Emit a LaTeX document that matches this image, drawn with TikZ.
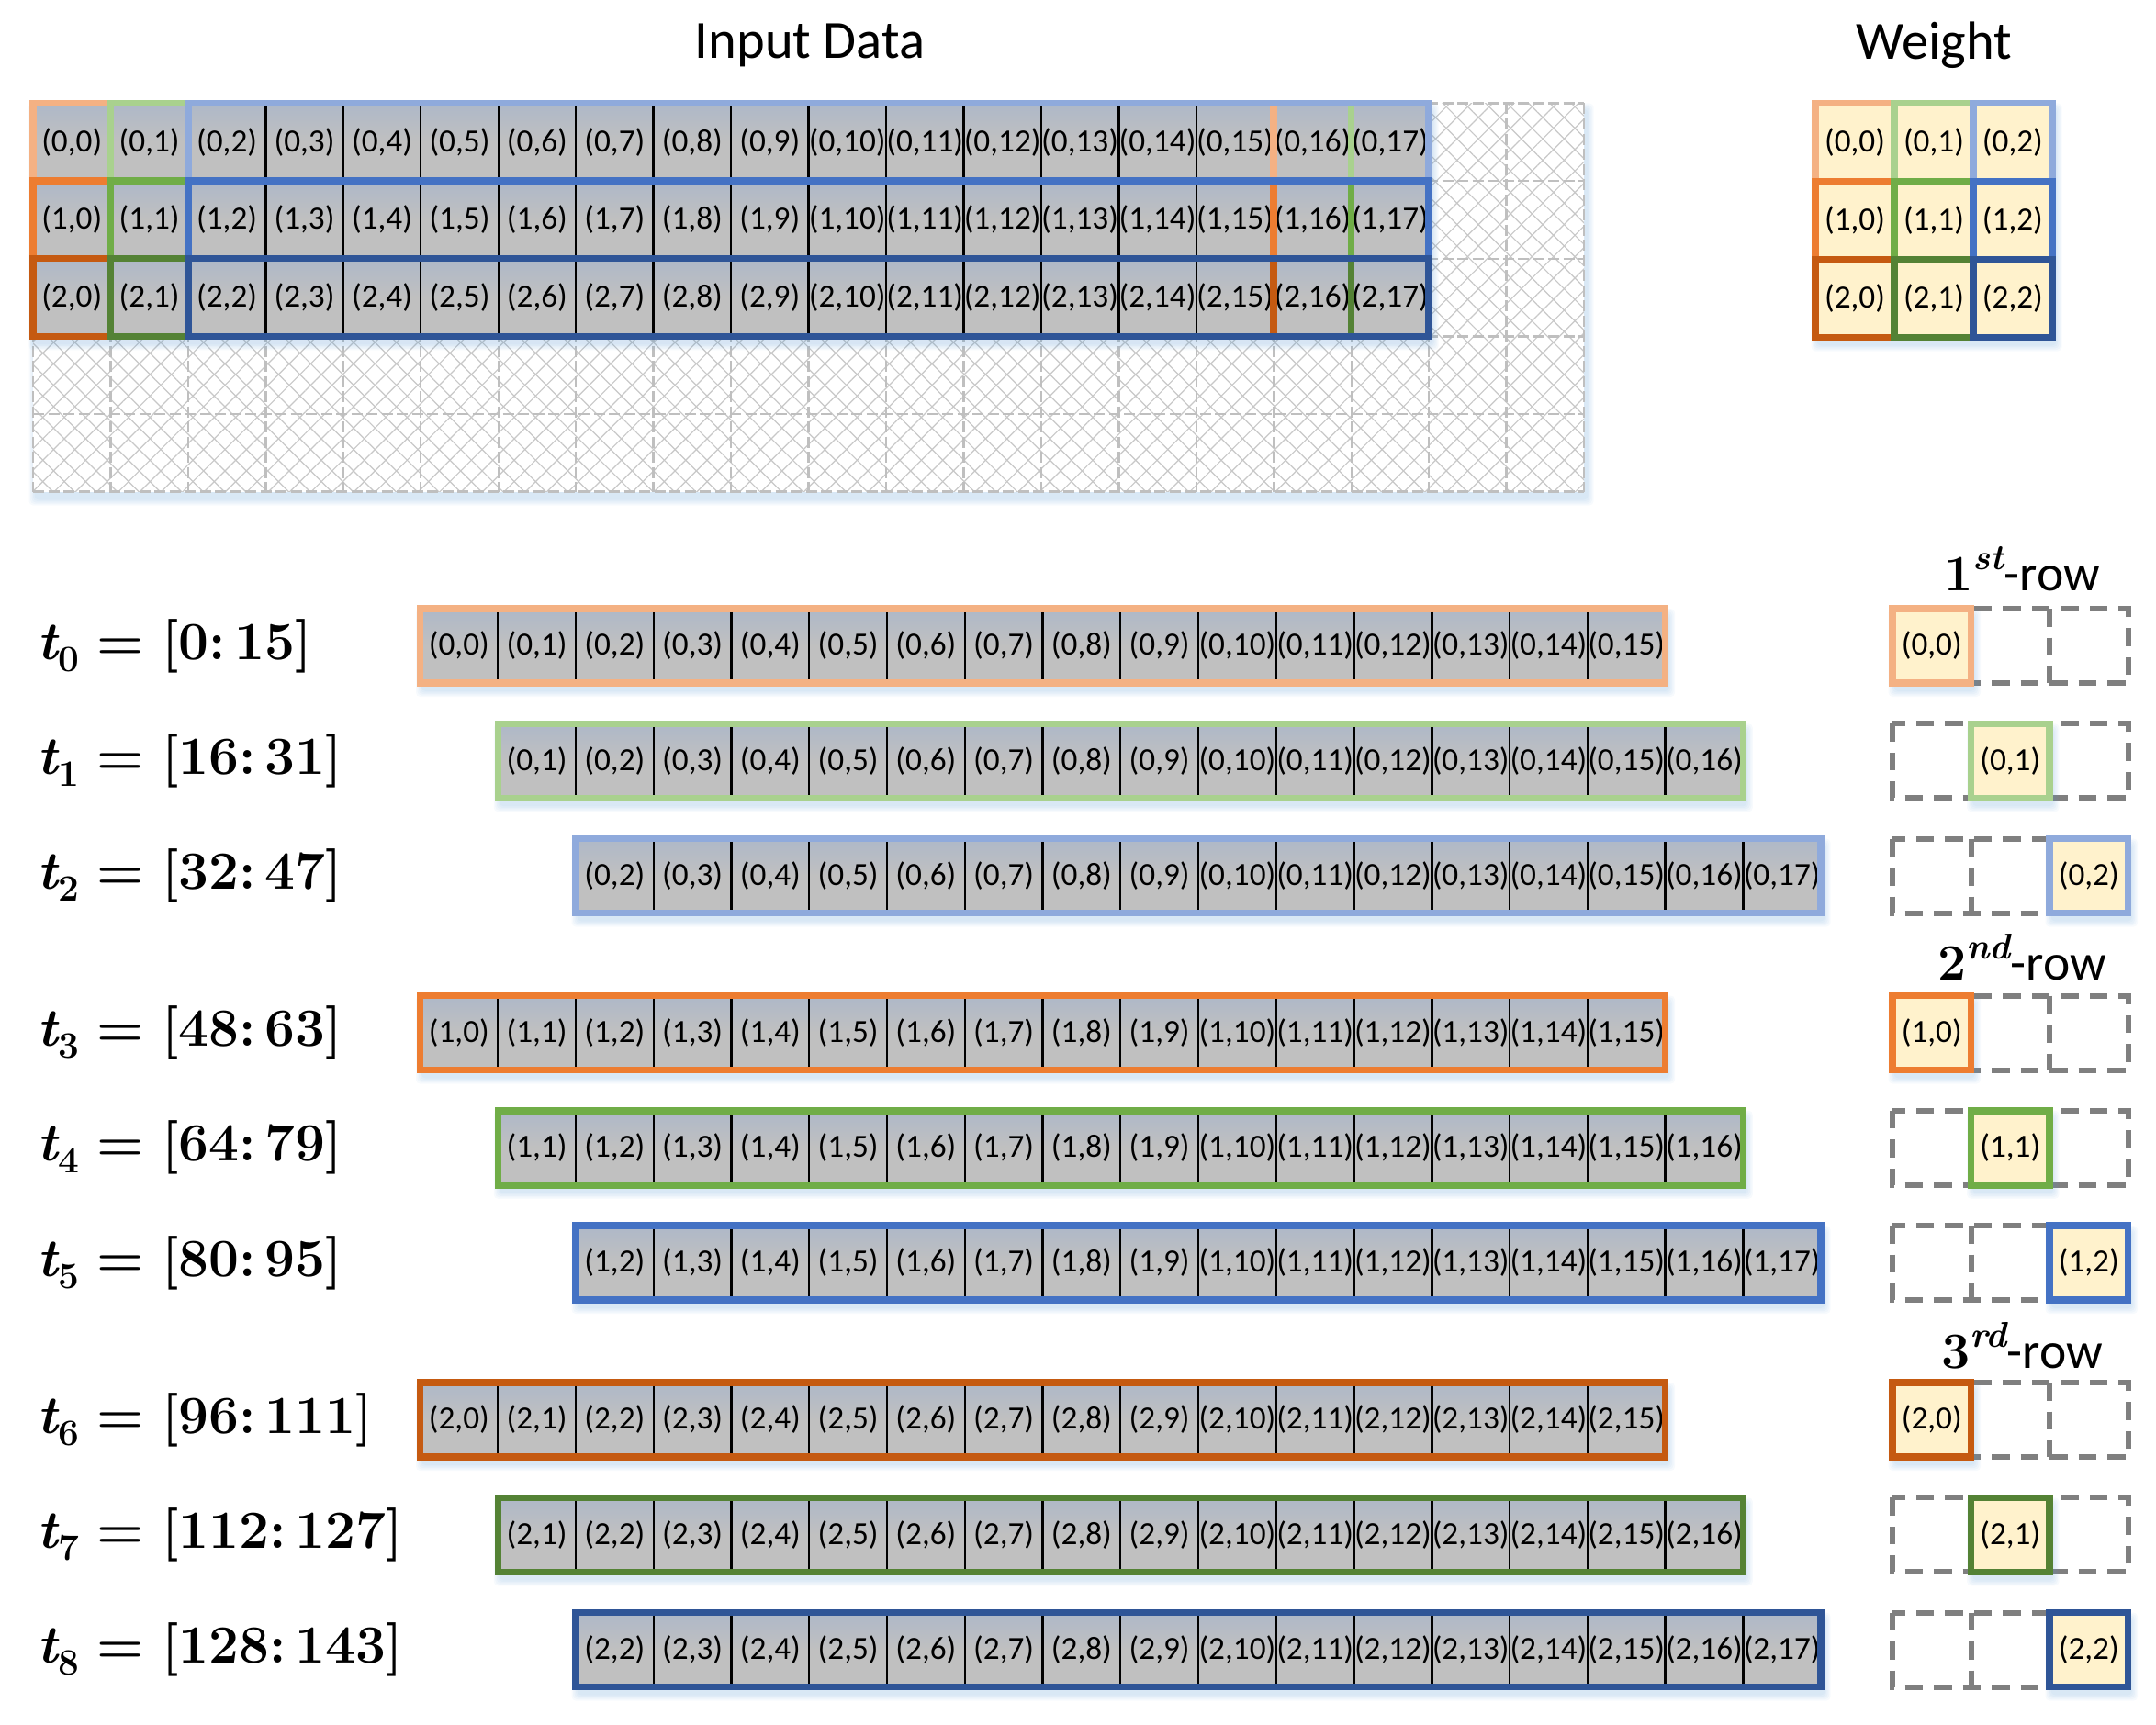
\documentclass[tikz,border=0pt]{standalone}
\usepackage{fontspec}
\newfontfamily\cali{Carlito}
\usetikzlibrary{patterns.meta}
\definecolor{oA}{HTML}{F4B183}
\definecolor{oB}{HTML}{ED7D31}
\definecolor{oC}{HTML}{C55A11}
\definecolor{gA}{HTML}{A9D18E}
\definecolor{gB}{HTML}{70AD47}
\definecolor{gC}{HTML}{548235}
\definecolor{bA}{HTML}{8FAADC}
\definecolor{bB}{HTML}{4472C4}
\definecolor{bC}{HTML}{2F5597}
\definecolor{cellgray}{HTML}{C0C0C0}
\definecolor{celltop}{HTML}{AEB8C8}
\definecolor{wfill}{HTML}{FFF2CC}
\definecolor{hatchc}{HTML}{C8C8C8}
\definecolor{gridc}{HTML}{BFBFBF}
\definecolor{dashc}{HTML}{7F7F7F}
\definecolor{shc}{HTML}{5B9BD5}
\newcommand{\softshadow}[4]{%
  \foreach \s in {1,...,5}{%
    \fill[shc,opacity=0.05,rounded corners=3pt] ({#1+2-\s},{#2+5-\s}) rectangle ({#3+2+\s},{#4+5+\s});}}
\newcommand{\tlab}[3]{\bfseries{\itshape t}\raisebox{-0.22em}{\fontsize{27}{27}\selectfont #1}\,\,=\,\,[#2:\,#3]}
\newcommand{\rlab}[2]{{\bfseries #1\raisebox{0.42em}{\fontsize{26}{26}\selectfont\itshape #2}}{\cali -row}}
\begin{document}
\begin{tikzpicture}[x=1pt,y=-1pt,
  celltxt/.style={font=\cali\fontsize{23.5}{23.5}\selectfont, inner sep=0pt},
  titletxt/.style={font=\cali\fontsize{39}{39}\selectfont, inner sep=0pt},
  tlabel/.style={font=\fontsize{39}{39}\selectfont, inner sep=0pt, anchor=west},
  rowhead/.style={font=\fontsize{37}{37}\selectfont, inner sep=0pt},
  win/.style={line width=5pt},
  divider/.style={black, line width=1.6pt},
  gridline/.style={gridc, line width=1.6pt, dash pattern=on 8pt off 3pt},
  wdash/.style={dashc, line width=4pt, dash pattern=on 13pt off 8pt},
  cellshade/.style={top color=celltop, bottom color=cellgray, middle color=cellgray},
]
\useasboundingbox (0,0) rectangle (1565.3,1252);
\node[titletxt] (title-in) at (588,33) {Input Data};
\node[titletxt] (title-w) at (1404,33) {Weight};
% ---------------- input grid
\def\gx{24}\def\gy{75}\def\gw{56.3}\def\gh{56.4}
\softshadow{24}{75}{1150}{357}
\fill[white] (24,75) rectangle (1150,357);
\fill[pattern={Lines[angle=45,distance=11pt,line width=0.8pt]},pattern color=hatchc] (24,75) rectangle (1150,357);
\fill[pattern={Lines[angle=-45,distance=11pt,line width=0.8pt]},pattern color=hatchc] (24,75) rectangle (1150,357);
\foreach \i in {0,...,20} \draw[gridline] ({\gx+\i*\gw},\gy) -- ++(0,282);
\foreach \j in {0,...,5} \draw[gridline] (\gx,{\gy+\j*\gh}) -- ++(1126,0);
\softshadow{24}{75}{1037.4}{244.2}
\foreach \ri in {0,1,2}{
  \shade[cellshade] ({\gx},{\gy+\ri*\gh}) rectangle ({\gx+18*\gw},{\gy+(\ri+1)*\gh});
  \foreach \ci in {3,...,17} \draw[divider] ({\gx+\ci*\gw},{\gy+\ri*\gh}) -- ++(0,\gh);
  \foreach \ci in {0,...,17} \node[celltxt] (in-\ri-\ci) at ({\gx+(\ci+0.5)*\gw},{\gy+(\ri+0.5)*\gh}) {(\ri,\ci)};
}
\foreach \ri/\ca/\cb/\cc in {0/oA/gA/bA,1/oB/gB/bB,2/oC/gC/bC}{
  \draw[win,draw=\ca] ({\gx},{\gy+\ri*\gh}) rectangle ({\gx+16*\gw},{\gy+(\ri+1)*\gh});
  \draw[win,draw=\cb] ({\gx+\gw},{\gy+\ri*\gh}) rectangle ({\gx+17*\gw},{\gy+(\ri+1)*\gh});
  \draw[win,draw=\cc] ({\gx+2*\gw},{\gy+\ri*\gh}) rectangle ({\gx+18*\gw},{\gy+(\ri+1)*\gh});
}
% ---------------- weight matrix
\def\wx{1318}\def\ww{57.3}\def\wh{56.7}
\softshadow{1318}{75}{1490}{245}
\fill[wfill] (\wx,\gy) rectangle ({\wx+3*\ww},{\gy+3*\wh});
\foreach \ri/\ci/\col in {0/0/oA,0/1/gA,0/2/bA,1/0/oB,1/1/gB,1/2/bB,2/0/oC,2/1/gC,2/2/bC}{
  \draw[win,draw=\col] ({\wx+\ci*\ww},{\gy+\ri*\wh}) rectangle ++(\ww,\wh);
  \node[celltxt] (w-\ri-\ci) at ({\wx+(\ci+0.5)*\ww},{\gy+(\ri+0.5)*\wh}) {(\ri,\ci)};
}
% ---------------- row headers
\node[rowhead] (hdr-0) at (1468,413) {\rlab{1}{st}};
\node[rowhead] (hdr-1) at (1468,695) {\rlab{2}{nd}};
\node[rowhead] (hdr-2) at (1468,977) {\rlab{3}{rd}};
% ---------------- labels
\node[tlabel] (lab-0) at (27,469) {\tlab{0}{0}{15}};
\node[tlabel] (lab-1) at (27,552.5) {\tlab{1}{16}{31}};
\node[tlabel] (lab-2) at (27,636) {\tlab{2}{32}{47}};
\node[tlabel] (lab-3) at (27,750) {\tlab{3}{48}{63}};
\node[tlabel] (lab-4) at (27,833.5) {\tlab{4}{64}{79}};
\node[tlabel] (lab-5) at (27,917) {\tlab{5}{80}{95}};
\node[tlabel] (lab-6) at (27,1031) {\tlab{6}{96}{111}};
\node[tlabel] (lab-7) at (27,1114.5) {\tlab{7}{112}{127}};
\node[tlabel] (lab-8) at (27,1198) {\tlab{8}{128}{143}};
% ---------------- unrolled rows
\foreach \yy/\xx in {469/305,552.5/361.5,636/418,750/305,833.5/361.5,917/418,1031/305,1114.5/361.5,1198/418}{
  \softshadow{\xx}{\yy-27}{\xx+904}{\yy+27}
  \shade[cellshade] (\xx,{\yy-27}) rectangle ({\xx+904},{\yy+27});
  \foreach \m in {1,...,15} \draw[divider] ({\xx+\m*56.5},{\yy-27}) -- ({\xx+\m*56.5},{\yy+27});
}
\foreach \tn/\g/\k/\yy/\xx in {0/0/0/469/305,1/0/1/552.5/361.5,2/0/2/636/418,3/1/0/750/305,4/1/1/833.5/361.5,5/1/2/917/418,6/2/0/1031/305,7/2/1/1114.5/361.5,8/2/2/1198/418}{
  \foreach \m in {0,...,15}{
    \pgfmathtruncatemacro\cn{\k+\m}
    \node[celltxt] (r\tn-\m) at ({\xx+(\m+0.5)*56.5},\yy) {(\g,\cn)};
  }
}
\foreach \yy/\xx/\col in {469/305/oA,552.5/361.5/gA,636/418/bA,750/305/oB,833.5/361.5/gB,917/418/bB,1031/305/oC,1114.5/361.5/gC,1198/418/bC}{
  \draw[win,draw=\col] (\xx,{\yy-27}) rectangle ({\xx+904},{\yy+27});
}
% ---------------- weight row indicators
\foreach \yy in {469,552.5,636,750,833.5,917,1031,1114.5,1198}{
  \draw[wdash] (1374,{\yy-27}) rectangle (1545,{\yy+27});
  \draw[wdash] (1431,{\yy-27}) -- (1431,{\yy+27});
  \draw[wdash] (1488,{\yy-27}) -- (1488,{\yy+27});
}
\foreach \tn/\g/\k/\yy/\col in {0/0/0/469/oA,1/0/1/552.5/gA,2/0/2/636/bA,3/1/0/750/oB,4/1/1/833.5/gB,5/1/2/917/bB,6/2/0/1031/oC,7/2/1/1114.5/gC,8/2/2/1198/bC}{
  \softshadow{1374+57*\k}{\yy-27}{1431+57*\k}{\yy+27}
  \draw[win,draw=\col,fill=wfill] ({1374+57*\k},{\yy-27}) rectangle ({1431+57*\k},{\yy+27});
  \node[celltxt] (wk-\tn) at ({1402.5+57*\k},\yy) {(\g,\k)};
}
\end{tikzpicture}
\end{document}
